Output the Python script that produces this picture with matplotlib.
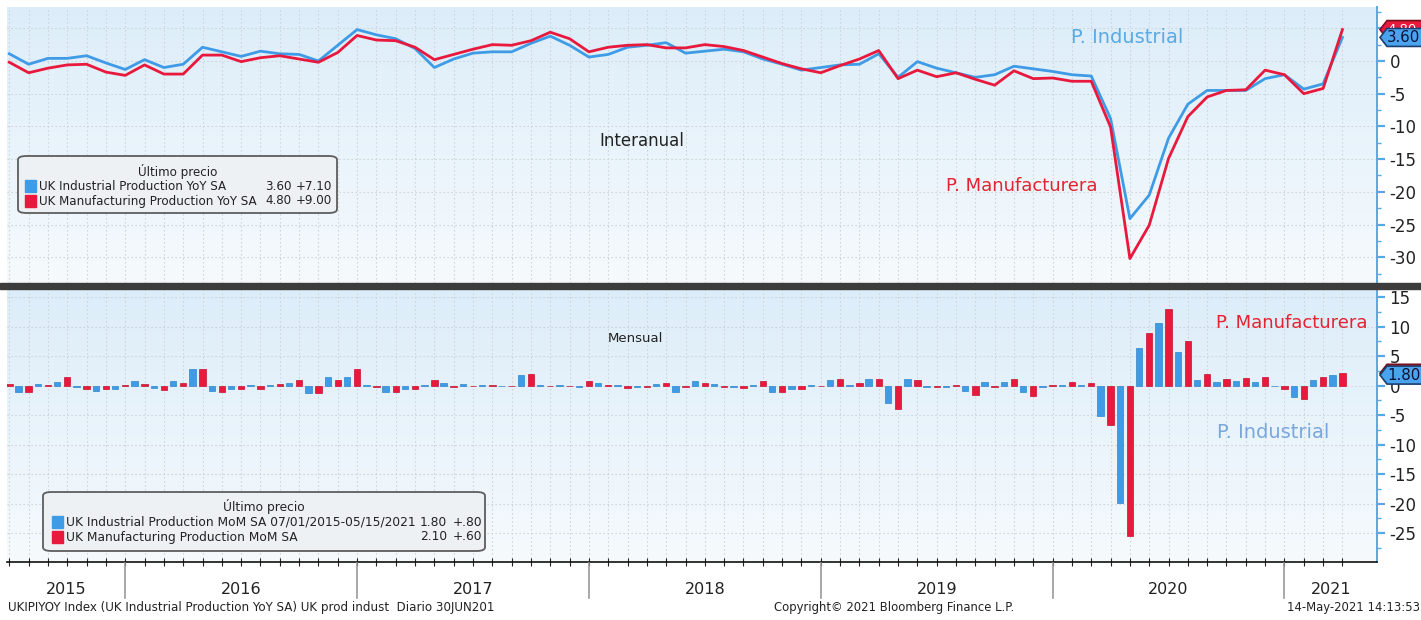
import numpy as np
import pandas as pd
import matplotlib
matplotlib.use('Agg')
import matplotlib.pyplot as plt
from matplotlib.patches import FancyBboxPatch, Polygon, Rectangle
from matplotlib.lines import Line2D
from matplotlib.colors import LinearSegmentedColormap
import matplotlib.transforms as mtransforms

plt.rcParams['font.family'] = ['DejaVu Sans']
plt.rcParams['axes.unicode_minus'] = False

# ---------------- data ----------------
months = pd.date_range('2015-06-30', periods=70, freq='ME').strftime('%Y-%m').tolist()

ip_yoy = [1.1, -0.5, 0.4, 0.4, 0.8, -0.3, -1.3, 0.2, -1.0, -0.5,
          2.1, 1.4, 0.7, 1.5, 1.1, 1.0, 0.0, 2.4, 4.8, 4.0,
          3.4, 1.9, -1.0, 0.3, 1.2, 1.4, 1.4, 2.7, 3.8, 2.4,
          0.6, 1.0, 2.1, 2.4, 2.8, 1.2, 1.5, 1.8, 1.4, 0.3,
          -0.5, -1.4, -1.0, -0.6, -0.5, 1.1, -2.5, -0.1, -1.1, -1.8,
          -2.5, -2.1, -0.8, -1.2, -1.6, -2.1, -2.3, -8.8, -24.1, -20.5,
          -11.8, -6.6, -4.5, -4.5, -4.5, -2.7, -2.1, -4.3, -3.5, 3.6]
mfg_yoy = [-0.2, -1.8, -1.1, -0.6, -0.5, -1.7, -2.2, -0.6, -2.0, -2.0,
           0.9, 0.9, -0.1, 0.5, 0.8, 0.3, -0.2, 1.3, 3.9, 3.2,
           3.1, 2.1, 0.2, 1.0, 1.8, 2.5, 2.4, 3.1, 4.4, 3.4,
           1.4, 2.1, 2.4, 2.5, 2.0, 2.0, 2.5, 2.2, 1.6, 0.6,
           -0.4, -1.2, -1.8, -0.7, 0.3, 1.6, -2.7, -1.4, -2.4, -1.8,
           -2.8, -3.7, -1.5, -2.7, -2.6, -3.1, -3.1, -10.1, -30.2, -25.1,
           -14.9, -8.5, -5.5, -4.5, -4.4, -1.4, -2.1, -5.0, -4.2, 4.8]
ip_mom = [0.0, -1.1, 0.3, 0.6, -0.2, -0.9, -0.6, 0.8, -0.4, 0.8,
          2.8, -0.9, -0.6, 0.1, 0.1, 0.4, -1.2, 1.5, 1.5, 0.1,
          -1.1, -0.6, 0.1, 0.4, 0.3, 0.1, -0.1, 1.8, 0.1, 0.1,
          -0.2, 0.4, 0.1, -0.2, 0.3, -1.0, 0.8, 0.3, -0.2, 0.1,
          -1.0, -0.6, 0.1, 0.9, 0.1, 1.2, -3.0, 1.2, -0.2, -0.2,
          -0.9, 0.6, 0.6, -1.1, -0.2, 0.2, 0.1, -5.2, -19.9, 6.4,
          10.7, 5.8, 1.0, 0.6, 0.8, 0.7, -0.1, -1.9, 1.0, 1.8]
mfg_mom = [0.3, -1.1, 0.2, 1.4, -0.6, -0.6, 0.1, 0.3, -0.7, 0.5,
           2.8, -1.1, -0.6, -0.6, 0.3, 1.0, -1.2, 0.9, 2.8, -0.3,
           -1.0, -0.5, 1.0, -0.2, -0.1, 0.1, -0.1, 1.9, -0.1, -0.1,
           0.8, 0.1, -0.4, -0.3, 0.4, -0.3, 0.5, -0.3, -0.4, 0.8,
           -1.0, -0.6, -0.1, 1.1, 0.4, 1.1, -3.9, 0.9, -0.3, 0.2,
           -1.5, -0.2, 1.1, -1.8, 0.2, 0.6, 0.4, -6.7, -25.5, 9.0,
           13.0, 7.6, 1.9, 1.1, 1.3, 1.4, -0.6, -2.3, 1.5, 2.1]

top_yticks = [5, 0, -5, -10, -15, -20, -25, -30]
top_yticklabels = ['', '0', '-5', '-10', '-15', '-20', '-25', '-30']
bot_yticks = [15, 10, 5, 0, -5, -10, -15, -20, -25]

name_ip_yoy = 'UK Industrial Production YoY SA'
name_mfg_yoy = 'UK Manufacturing Production YoY SA'
name_ip_mom = 'UK Industrial Production MoM SA 07/01/2015-05/15/2021'
name_mfg_mom = 'UK Manufacturing Production MoM SA'

BLUE = '#3f9be6'
RED = '#e8193c'
BLUE_TXT = '#5aaae3'
BLUE_TXT2 = '#7aa6dc'
RED_TXT = '#e3232f'

# ---------------- figure ----------------
W, H = 1421, 620
fig = plt.figure(figsize=(W / 100, H / 100), dpi=100)
fig.patch.set_facecolor('white')

def fx(px):
    return px / W

def fy(py):
    return 1 - py / H

L, R = 7, 1377
ax1 = fig.add_axes([fx(L), fy(283), fx(R) - fx(L), fy(7) - fy(283)])
ax2 = fig.add_axes([fx(L), fy(562), fx(R) - fx(L), fy(289) - fy(562)])

x = np.arange(len(months))
xlim = (-0.12, 70.79)

grad_cmap = LinearSegmentedColormap.from_list('bg', ['#f6fafd', '#dcedf9'])
grad = np.linspace(0, 1, 256).reshape(-1, 1)

for ax in (ax1, ax2):
    ax.imshow(grad, extent=[0, 1, 0, 1], transform=ax.transAxes, aspect='auto',
              cmap=grad_cmap, origin='lower', zorder=0)
    ax.set_xlim(*xlim)
    ax.set_xticks(x)
    ax.grid(True, which='major', color='#c9cfd5', linestyle=(0, (1.2, 2.4)), linewidth=0.8)
    ax.set_axisbelow(True)
    ax.yaxis.tick_right()
    ax.tick_params(axis='y', which='major', direction='out', length=6, width=1.6,
                   colors='#5aa8e0', labelcolor='#222222', labelsize=12, pad=3)
    ax.tick_params(axis='y', which='minor', direction='out', length=3, width=1.0,
                   colors='#5aa8e0')
    for s in ('top', 'left', 'bottom'):
        ax.spines[s].set_visible(False)
    ax.spines['right'].set_color('#5aa8e0')
    ax.spines['right'].set_linewidth(1.4)

# top panel
ax1.plot(x, ip_yoy, color=BLUE, lw=2.0, zorder=3, solid_joinstyle='round')
ax1.plot(x, mfg_yoy, color=RED, lw=2.0, zorder=4, solid_joinstyle='round')
ax1.set_ylim(-33.93, 8.25)
ax1.set_yticks(top_yticks)
ax1.set_yticklabels(top_yticklabels)
ax1.set_yticks(np.arange(-32.5, 8, 2.5), minor=True)
ax1.tick_params(axis='x', length=0, labelbottom=False)

# bottom panel
bw = 0.33
ax2.bar(x - 0.52, ip_mom, width=bw, color=BLUE, edgecolor='#2f86cf', linewidth=0.5, zorder=3)
ax2.bar(x, mfg_mom, width=bw, color=RED, edgecolor='#c8102e', linewidth=0.5, zorder=3)
ax2.set_ylim(-29.9, 16.4)
ax2.set_yticks(bot_yticks)
ax2.set_yticks(np.arange(-27.5, 16, 2.5), minor=True)
ax2.tick_params(axis='x', direction='inout', length=6, width=0.8, colors='#222222',
                labelbottom=False)
ax2.spines['bottom'].set_visible(True)
ax2.spines['bottom'].set_color('#111111')
ax2.spines['bottom'].set_linewidth(1.2)

# separator between panels
fig.patches.append(Rectangle((fx(0), fy(288.5)), 1, 5.5 / H,
                             transform=fig.transFigure, color='#3c3c3c', zorder=6))

# year separators and labels
year_ends = [i for i, m in enumerate(months) if m.endswith('-12')]
bounds = [xlim[0]] + year_ends + [xlim[1]]
years = [str(int(months[0][:4]) + k) for k in range(len(bounds) - 1)]
tb = mtransforms.blended_transform_factory(ax2.transData, fig.transFigure)
for b in year_ends:
    fig.lines.append(Line2D([b, b], [fy(563), fy(598)], transform=tb, color='#9a9a9a', lw=1.2))
for k, yr in enumerate(years):
    fig.text((bounds[k] + bounds[k + 1]) / 2, fy(589), yr, transform=tb,
             ha='center', va='center', fontsize=11.5, color='#222222')

# footer
fig.text(fx(8), fy(607), 'UKIPIYOY Index (UK Industrial Production YoY SA) UK prod indust  Diario 30JUN201',
         ha='left', va='center', fontsize=8.6, color='#222222')
fig.text(fx(894), fy(607), 'Copyright\u00a9 2021 Bloomberg Finance L.P.',
         ha='center', va='center', fontsize=8.4, color='#222222')
fig.text(fx(1420), fy(607), '14-May-2021 14:13:53',
         ha='right', va='center', fontsize=8.4, color='#222222')

# annotations
ax1.text(0.4635, 0.514, 'Interanual', transform=ax1.transAxes, ha='center', va='center',
         fontsize=12, color='#222222')
ax1.text(0.818, 0.891, 'P. Industrial', transform=ax1.transAxes, ha='center', va='center',
         fontsize=14, color=BLUE_TXT)
ax1.text(0.741, 0.351, 'P. Manufacturera', transform=ax1.transAxes, ha='center', va='center',
         fontsize=13, color=RED_TXT)
ax2.text(0.4585, 0.817, 'Mensual', transform=ax2.transAxes, ha='center', va='center',
         fontsize=9.5, color='#222222')
ax2.text(0.938, 0.875, 'P. Manufacturera', transform=ax2.transAxes, ha='center', va='center',
         fontsize=13, color=RED_TXT)
ax2.text(0.924, 0.476, 'P. Industrial', transform=ax2.transAxes, ha='center', va='center',
         fontsize=14, color=BLUE_TXT2)

# value tags at the right edge
def draw_tag(ax, val, face, edge, txt, tcolor, clip_below=None):
    bb = ax.get_position()
    hpx = bb.height * H
    y0, y1 = ax.get_ylim()
    ppu = hpx / (y1 - y0)
    h = 9 / ppu
    wpx = bb.width * W
    xt = (1380 - L) / wpx
    xb = (1387 - L) / wpx
    xe = (1430 - L) / wpx
    tr = mtransforms.blended_transform_factory(ax.transAxes, ax.transData)
    poly = Polygon([[xt, val], [xb, val + h], [xe, val + h], [xe, val - h], [xb, val - h]],
                   closed=True, transform=tr, facecolor=face, edgecolor=edge, lw=1.2,
                   clip_on=False, zorder=10)
    ax.add_patch(poly)
    if txt:
        t = ax.text((1387 - L) / wpx, val, txt, transform=tr, ha='left', va='center',
                    fontsize=10.8 if clip_below is None else 9.5, color=tcolor, zorder=11,
                    clip_on=False)
        if clip_below is not None:
            # only the part above the tag lying in front stays visible
            lo = ax.transData.transform((0, clip_below + h))[1]
            t.set_clip_box(mtransforms.Bbox([[1370, lo], [W + 10, H + 10]]))
            t.set_clip_on(True)
    return h

draw_tag(ax1, mfg_yoy[-1], '#e8193c', '#7a0d1c', f'{mfg_yoy[-1]:.2f}', '#ffffff',
         clip_below=ip_yoy[-1])
draw_tag(ax1, ip_yoy[-1], '#4aa3ee', '#1b3f6e', f'{ip_yoy[-1]:.2f}', '#111133')
draw_tag(ax2, mfg_mom[-1], '#e8193c', '#7a0d1c', '', '#ffffff')
draw_tag(ax2, ip_mom[-1], '#4aa3ee', '#1b3f6e', f'{ip_mom[-1]:.2f}', '#111133')

# legend boxes
def chg(series):
    d = series[-1] - series[-2]
    s = f'{d:+.2f}'
    return s.replace('+0.', '+.').replace('-0.', '-.')

def legend_box(x0, y0, x1, y1, title, rows, xs, xv, xc, fs):
    box = FancyBboxPatch((fx(x0), fy(y1)), fx(x1) - fx(x0), fy(y0) - fy(y1),
                         boxstyle='round,pad=0,rounding_size=0.006',
                         transform=fig.transFigure, facecolor='#eef1f4', edgecolor='#555555',
                         lw=1.3, alpha=0.95, zorder=20)
    fig.patches.append(box)
    fig.text(fx((x0 + x1) / 2), fy(y0 + 15), title, ha='center', va='center',
             fontsize=fs, color='#222222', zorder=21)
    for k, (col, name, val, ch) in enumerate(rows):
        yy = y0 + 30 + 15 * k
        fig.patches.append(Rectangle((fx(xs), fy(yy + 6)), 11 / W, 12 / H,
                                     transform=fig.transFigure, color=col, zorder=21))
        fig.text(fx(xs + 14), fy(yy), name, ha='left', va='center', fontsize=fs,
                 color='#222222', zorder=21)
        fig.text(fx(xv), fy(yy), val, ha='right', va='center', fontsize=fs,
                 color='#222222', zorder=21)
        fig.text(fx(xc), fy(yy), ch, ha='right', va='center', fontsize=fs,
                 color='#222222', zorder=21)

legend_box(18, 156, 337, 213, '\u00daltimo precio',
           [(BLUE, name_ip_yoy, f'{ip_yoy[-1]:.2f}', chg(ip_yoy)),
            (RED, name_mfg_yoy, f'{mfg_yoy[-1]:.2f}', chg(mfg_yoy))],
           25, 292, 332, 8.6)
legend_box(43, 492, 485, 551, '\u00daltimo precio',
           [(BLUE, name_ip_mom, f'{ip_mom[-1]:.2f}', chg(ip_mom)),
            (RED, name_mfg_mom, f'{mfg_mom[-1]:.2f}', chg(mfg_mom))],
           52, 447, 482, 8.8)

fig.savefig('out.png', dpi=100, facecolor='white')
